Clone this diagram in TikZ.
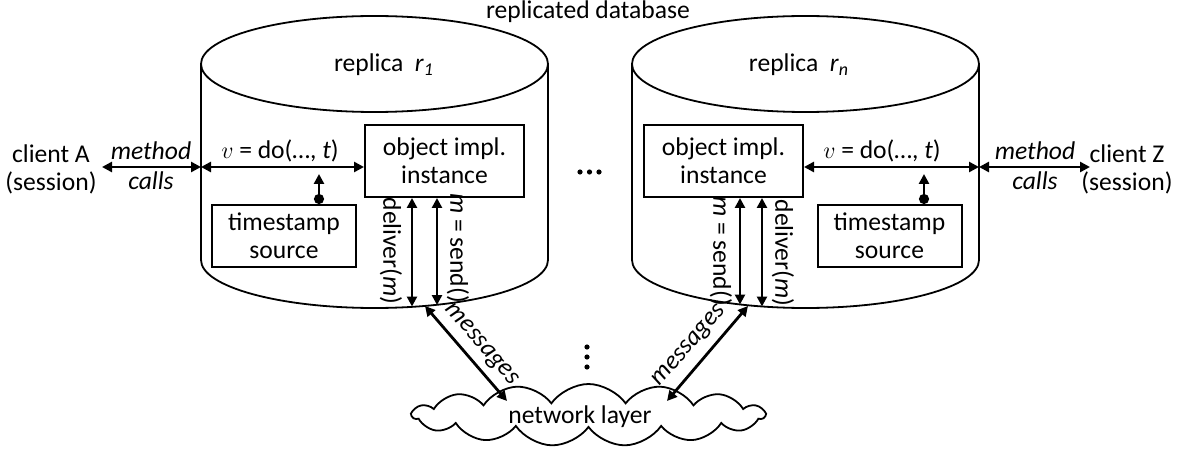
\documentclass[tikz,border=0pt]{standalone}
\usepackage{fontspec}
\setmainfont{Carlito}
\usetikzlibrary{arrows.meta,shapes.symbols}
\tikzset{
  objbox/.style={draw, line width=1pt, align=center, minimum width=79.5pt, minimum height=36pt, inner sep=0pt},
  tsbox/.style={draw, line width=1pt, align=center, minimum width=72pt, minimum height=31pt, inner sep=0pt},
  dbl/.style={line width=1.4pt, {Triangle[length=5pt,width=5pt]}-{Triangle[length=5pt,width=5pt]}},
  dotarrow/.style={line width=1.4pt, {Circle[length=5pt]}-{Triangle[length=5pt,width=5pt]}},
  wall/.style={line width=0.9pt},
  txt/.style={align=center, inner sep=0pt},
  itxt/.style={font=\fontsize{12.8}{14}\selectfont\itshape, inner sep=0pt},
  bigdot/.style={fill, circle, inner sep=0pt, minimum size=2.6pt},
  msg/.style={inner sep=0pt, font=\fontsize{12.8}{14}\selectfont\itshape}
}
\begin{document}
\begin{tikzpicture}[x=0.5pt, y=-0.5pt, font=\fontsize{12.8}{14}\selectfont]
\useasboundingbox (0,0) rectangle (1190,449);

% title
\node[txt] (title) at (588,12) {replicated database};

% ---- left cylinder ----
\draw[wall] (374.5,64) ellipse [x radius=173.5, y radius=48];
\draw[wall] (201,64) -- (201,260) .. controls (201,286.5) and (278.7,308) .. (374.5,308)
  .. controls (470.3,308) and (548,286.5) .. (548,260) -- (548,64);
\node[txt] (rep1) at (384,65) {replica\hspace{0.45em}\textit{r}\textsubscript{\textit{1}}};

% ---- right cylinder ----
\draw[wall] (805.5,64) ellipse [x radius=173.5, y radius=48];
\draw[wall] (632,64) -- (632,260) .. controls (632,286.5) and (709.7,308) .. (805.5,308)
  .. controls (901.3,308) and (979,286.5) .. (979,260) -- (979,64);
\node[txt] (repn) at (799,65) {replica\hspace{0.45em}\textit{r}\textsubscript{\textit{n}}};

% boxes
\node[objbox] (objL) at (444.5,161) {object impl.\\instance};
\node[objbox] (objR) at (723.5,161) {object impl.\\instance};
\node[tsbox] (tsL) at (284,236) {timestamp\\source};
\node[tsbox] (tsR) at (889.5,236) {timestamp\\source};

% clients
\node[txt] (cliA) at (51,169) {client A\\(session)};
\node[txt] (cliZ) at (1127,169) {client Z\\(session)};

% wall coordinates
\coordinate (LwL) at (201,167);
\coordinate (RwR) at (979,167);
\coordinate (cAr) at (102,167);
\coordinate (cZl) at (1090,167);

% method calls
\draw[dbl] (cAr) -- (LwL);
\node[itxt] (mA1) at (151,151) {method};
\node[itxt] (mA2) at (151,181) {calls};
\draw[dbl] (RwR) -- (cZl);
\node[itxt] (mZ1) at (1035,151) {method};
\node[itxt] (mZ2) at (1035,181) {calls};

% do arrows
\draw[dbl] (LwL) -- (objL.west |- LwL);
\node[txt] (doL) at (280,151) {$v$ = do(…, \textit{t})};
\draw[dbl] (objR.east |- RwR) -- (RwR);
\node[txt] (doR) at (882,151) {$v$ = do(…, \textit{t})};

% timestamp arrows
\coordinate (LdotS) at (319,205);
\coordinate (LdotE) at (319,174);
\draw[dotarrow] (tsL.north -| LdotS) -- (LdotE);
\coordinate (RdotS) at (924,205);
\coordinate (RdotE) at (924,174);
\draw[dotarrow] (tsR.north -| RdotS) -- (RdotE);

% vertical arrows left
\coordinate (Lb1) at (412,306.5);
\coordinate (Lb2) at (437,305);
\draw[dbl] (objL.south -| Lb1) -- (Lb1);
\draw[dbl] (objL.south -| Lb2) -- (Lb2);
\node[txt, rotate=-90] (delL) at (391,251) {deliver(\textit{m})};
\node[txt, rotate=-90] (sendL) at (458,248) {\textit{m} = send()};

% vertical arrows right
\coordinate (Rb1) at (740,304.5);
\coordinate (Rb2) at (762,306.5);
\draw[dbl] (objR.south -| Rb1) -- (Rb1);
\draw[dbl] (objR.south -| Rb2) -- (Rb2);
\node[txt, rotate=-90] (sendR) at (721,251) {\textit{m} = send()};
\node[txt, rotate=-90] (delR) at (783,253) {deliver(\textit{m})};

% dots
\node[bigdot] (hd1) at (580,172) {};
\node[bigdot] (hd2) at (589.5,172) {};
\node[bigdot] (hd3) at (599,172) {};
\node[bigdot] (vd1) at (587,347) {};
\node[bigdot] (vd2) at (587,357) {};
\node[bigdot] (vd3) at (587,367) {};

% cloud
\node[cloud, draw, line width=0.9pt, cloud puffs=15, cloud puff arc=110, aspect=6,
      minimum width=176pt, minimum height=31pt, inner sep=0pt] (net) at (588.5,415) {};
\node[txt] (netlbl) at (580,417) {network layer};

% messages
\coordinate (Lm1) at (425,306);
\coordinate (Lm2) at (507,401);
\coordinate (Rm1) at (748,306);
\coordinate (Rm2) at (667,401);
\draw[dbl] (Lm1) -- (Lm2);
\draw[dbl] (Rm2) -- (Rm1);
\node[msg, rotate=-49] (msgL) at (481,345) {messages};
\node[msg, rotate=49] (msgR) at (690,346) {messages};
\end{tikzpicture}
\end{document}
